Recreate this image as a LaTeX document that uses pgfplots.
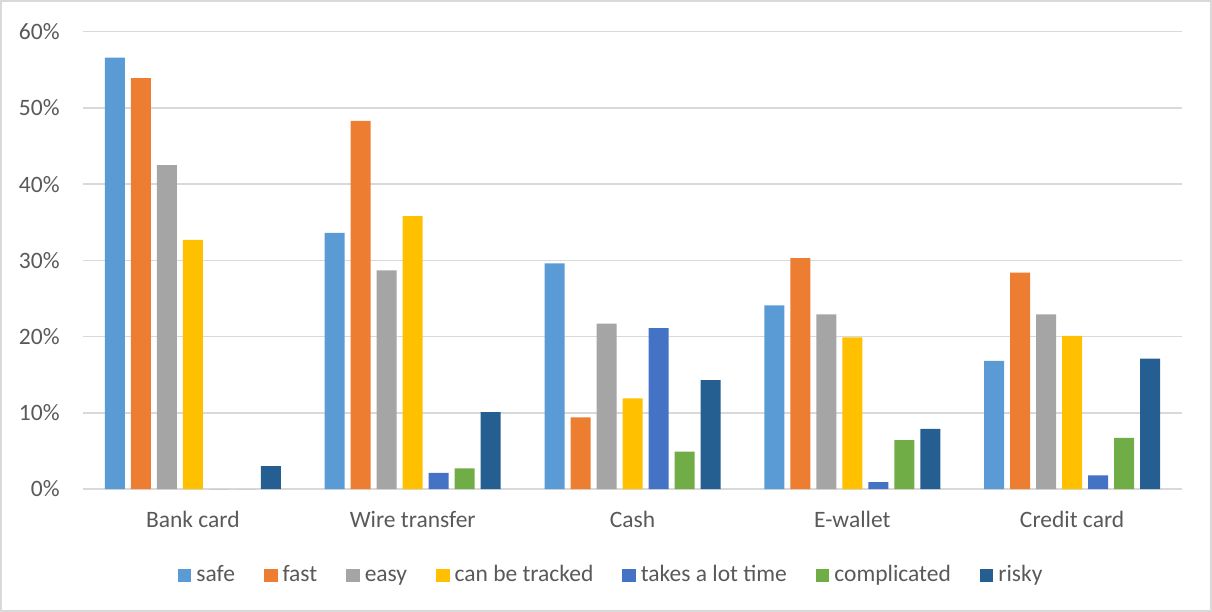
\documentclass[border=0pt]{standalone}
\usepackage{fontspec}
\setmainfont{Carlito}
\usepackage{pgfplots}
\usepackage{pgfplotstable}
\pgfplotsset{compat=1.18}
\definecolor{cSafe}{HTML}{5B9BD5}
\definecolor{cFast}{HTML}{ED7D31}
\definecolor{cEasy}{HTML}{A5A5A5}
\definecolor{cTrack}{HTML}{FFC000}
\definecolor{cTakes}{HTML}{4472C4}
\definecolor{cComp}{HTML}{70AD47}
\definecolor{cRisky}{HTML}{255E91}
\definecolor{gridgray}{HTML}{D9D9D9}
\definecolor{txtgray}{HTML}{595959}

% x: 0 Bank card, 1 Wire transfer, 2 Cash, 3 E-wallet, 4 Credit card
\pgfplotstableread{
x safe fast easy track takes comp risky
0 56.6 53.9 42.5 32.7 0.0 0.0 3.0
1 33.6 48.3 28.7 35.8 2.1 2.7 10.1
2 29.6 9.4 21.7 11.9 21.1 4.9 14.3
3 24.1 30.3 22.9 19.9 0.9 6.4 7.9
4 16.8 28.4 22.9 20.1 1.8 6.7 17.1
}\datatable

\pgfplotsset{sq/.style={legend image code/.code={\fill[##1] (0bp,-3.3bp) rectangle (6.75bp,3.45bp);}}}

\begin{document}
\fontsize{11.75bp}{14bp}\selectfont
\begin{tikzpicture}
\useasboundingbox (-41.5bp,-61.5bp) rectangle (564.5bp,244.5bp);
\draw[gridgray, line width=0.75bp] (-41bp,-61bp) rectangle (564bp,244bp);
\begin{axis}[
  at={(0,0)}, anchor=south west,
  scale only axis,
  width=549.5bp, height=228.65bp,
  xmin=-0.5, xmax=4.5, ymin=0, ymax=60,
  ybar=3bp, bar width=10bp,
  xtick={0,1,2,3,4},
  xticklabels={Bank card, Wire transfer, Cash, E-wallet, Credit card},
  ytick={0,10,20,30,40,50,60},
  yticklabel={\pgfmathprintnumber{\tick}\%},
  /pgf/number format/assume math mode=true,
  ymajorgrids,
  grid style={gridgray, line width=0.75bp},
  axis x line*=bottom, axis y line*=left,
  x axis line style={gridgray, line width=0.75bp},
  y axis line style={draw=none},
  major tick length=0pt,
  tick label style={font=\fontsize{11.75bp}{14bp}\selectfont, text=txtgray},
  xticklabel style={anchor=base, inner sep=0pt, yshift=-19.25bp},
  yticklabel style={anchor=east, inner sep=0pt, xshift=-11.5bp},
  legend style={at={(0.482,-0.19)}, anchor=center, draw=none, fill=none,
    font=\fontsize{11.75bp}{14bp}\selectfont, text=txtgray,
    legend columns=7,
    /tikz/every even column/.append style={column sep=12bp},
    nodes={inner sep=2.5bp, text height=0.7em, text depth=0.22em}},
]
\addplot[fill=cSafe, draw=none, sq] table[x=x, y=safe] {\datatable};
\addplot[fill=cFast, draw=none, sq] table[x=x, y=fast] {\datatable};
\addplot[fill=cEasy, draw=none, sq] table[x=x, y=easy] {\datatable};
\addplot[fill=cTrack, draw=none, sq] table[x=x, y=track] {\datatable};
\addplot[fill=cTakes, draw=none, sq] table[x=x, y=takes] {\datatable};
\addplot[fill=cComp, draw=none, sq] table[x=x, y=comp] {\datatable};
\addplot[fill=cRisky, draw=none, sq] table[x=x, y=risky] {\datatable};
\legend{safe, fast, easy, can be tracked, takes a lot time, complicated, risky}
\end{axis}
\end{tikzpicture}
\end{document}
